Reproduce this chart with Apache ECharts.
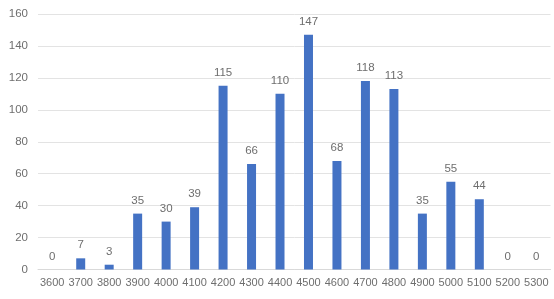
<!DOCTYPE html>
<html>
<head>
<meta charset="utf-8">
<script src="https://cdn.jsdelivr.net/npm/echarts@6/dist/echarts.min.js"></script>
<style>html,body{margin:0;padding:0;background:#fff}#c{width:554px;height:299px}</style>
</head>
<body>
<div id="c"></div>
<script>
const categories = ['3600','3700','3800','3900','4000','4100','4200','4300','4400','4500','4600','4700','4800','4900','5000','5100','5200','5300'];
const values = [0,7,3,35,30,39,115,66,110,147,68,118,113,35,55,44,0,0];
const chart = echarts.init(document.getElementById('c'));
const font = 'Liberation Sans, Arial, sans-serif';
chart.setOption({
  animation: false,
  grid: { left: 38, right: 3.5, top: 14, bottom: 29.5, containLabel: false },
  xAxis: {
    type: 'category',
    data: categories,
    axisLine: { lineStyle: { color: '#d9d9d9' } },
    axisTick: { show: false },
    axisLabel: { color: '#6e6e6e', fontSize: 11, fontFamily: font, margin: 8, interval: 0 }
  },
  yAxis: {
    type: 'value',
    min: 0, max: 160, interval: 20,
    axisLine: { show: false },
    axisTick: { show: false },
    splitLine: { lineStyle: { color: '#e3e3e3' } },
    axisLabel: { color: '#6e6e6e', fontSize: 11.5, fontFamily: font, margin: 10 }
  },
  series: [{
    type: 'bar',
    data: values,
    barWidth: 9,
    itemStyle: { color: '#4472C4' },
    label: { show: true, position: 'top', distance: 7, color: '#6e6e6e', fontSize: 11.5, fontFamily: font }
  }]
});
</script>
</body>
</html>
